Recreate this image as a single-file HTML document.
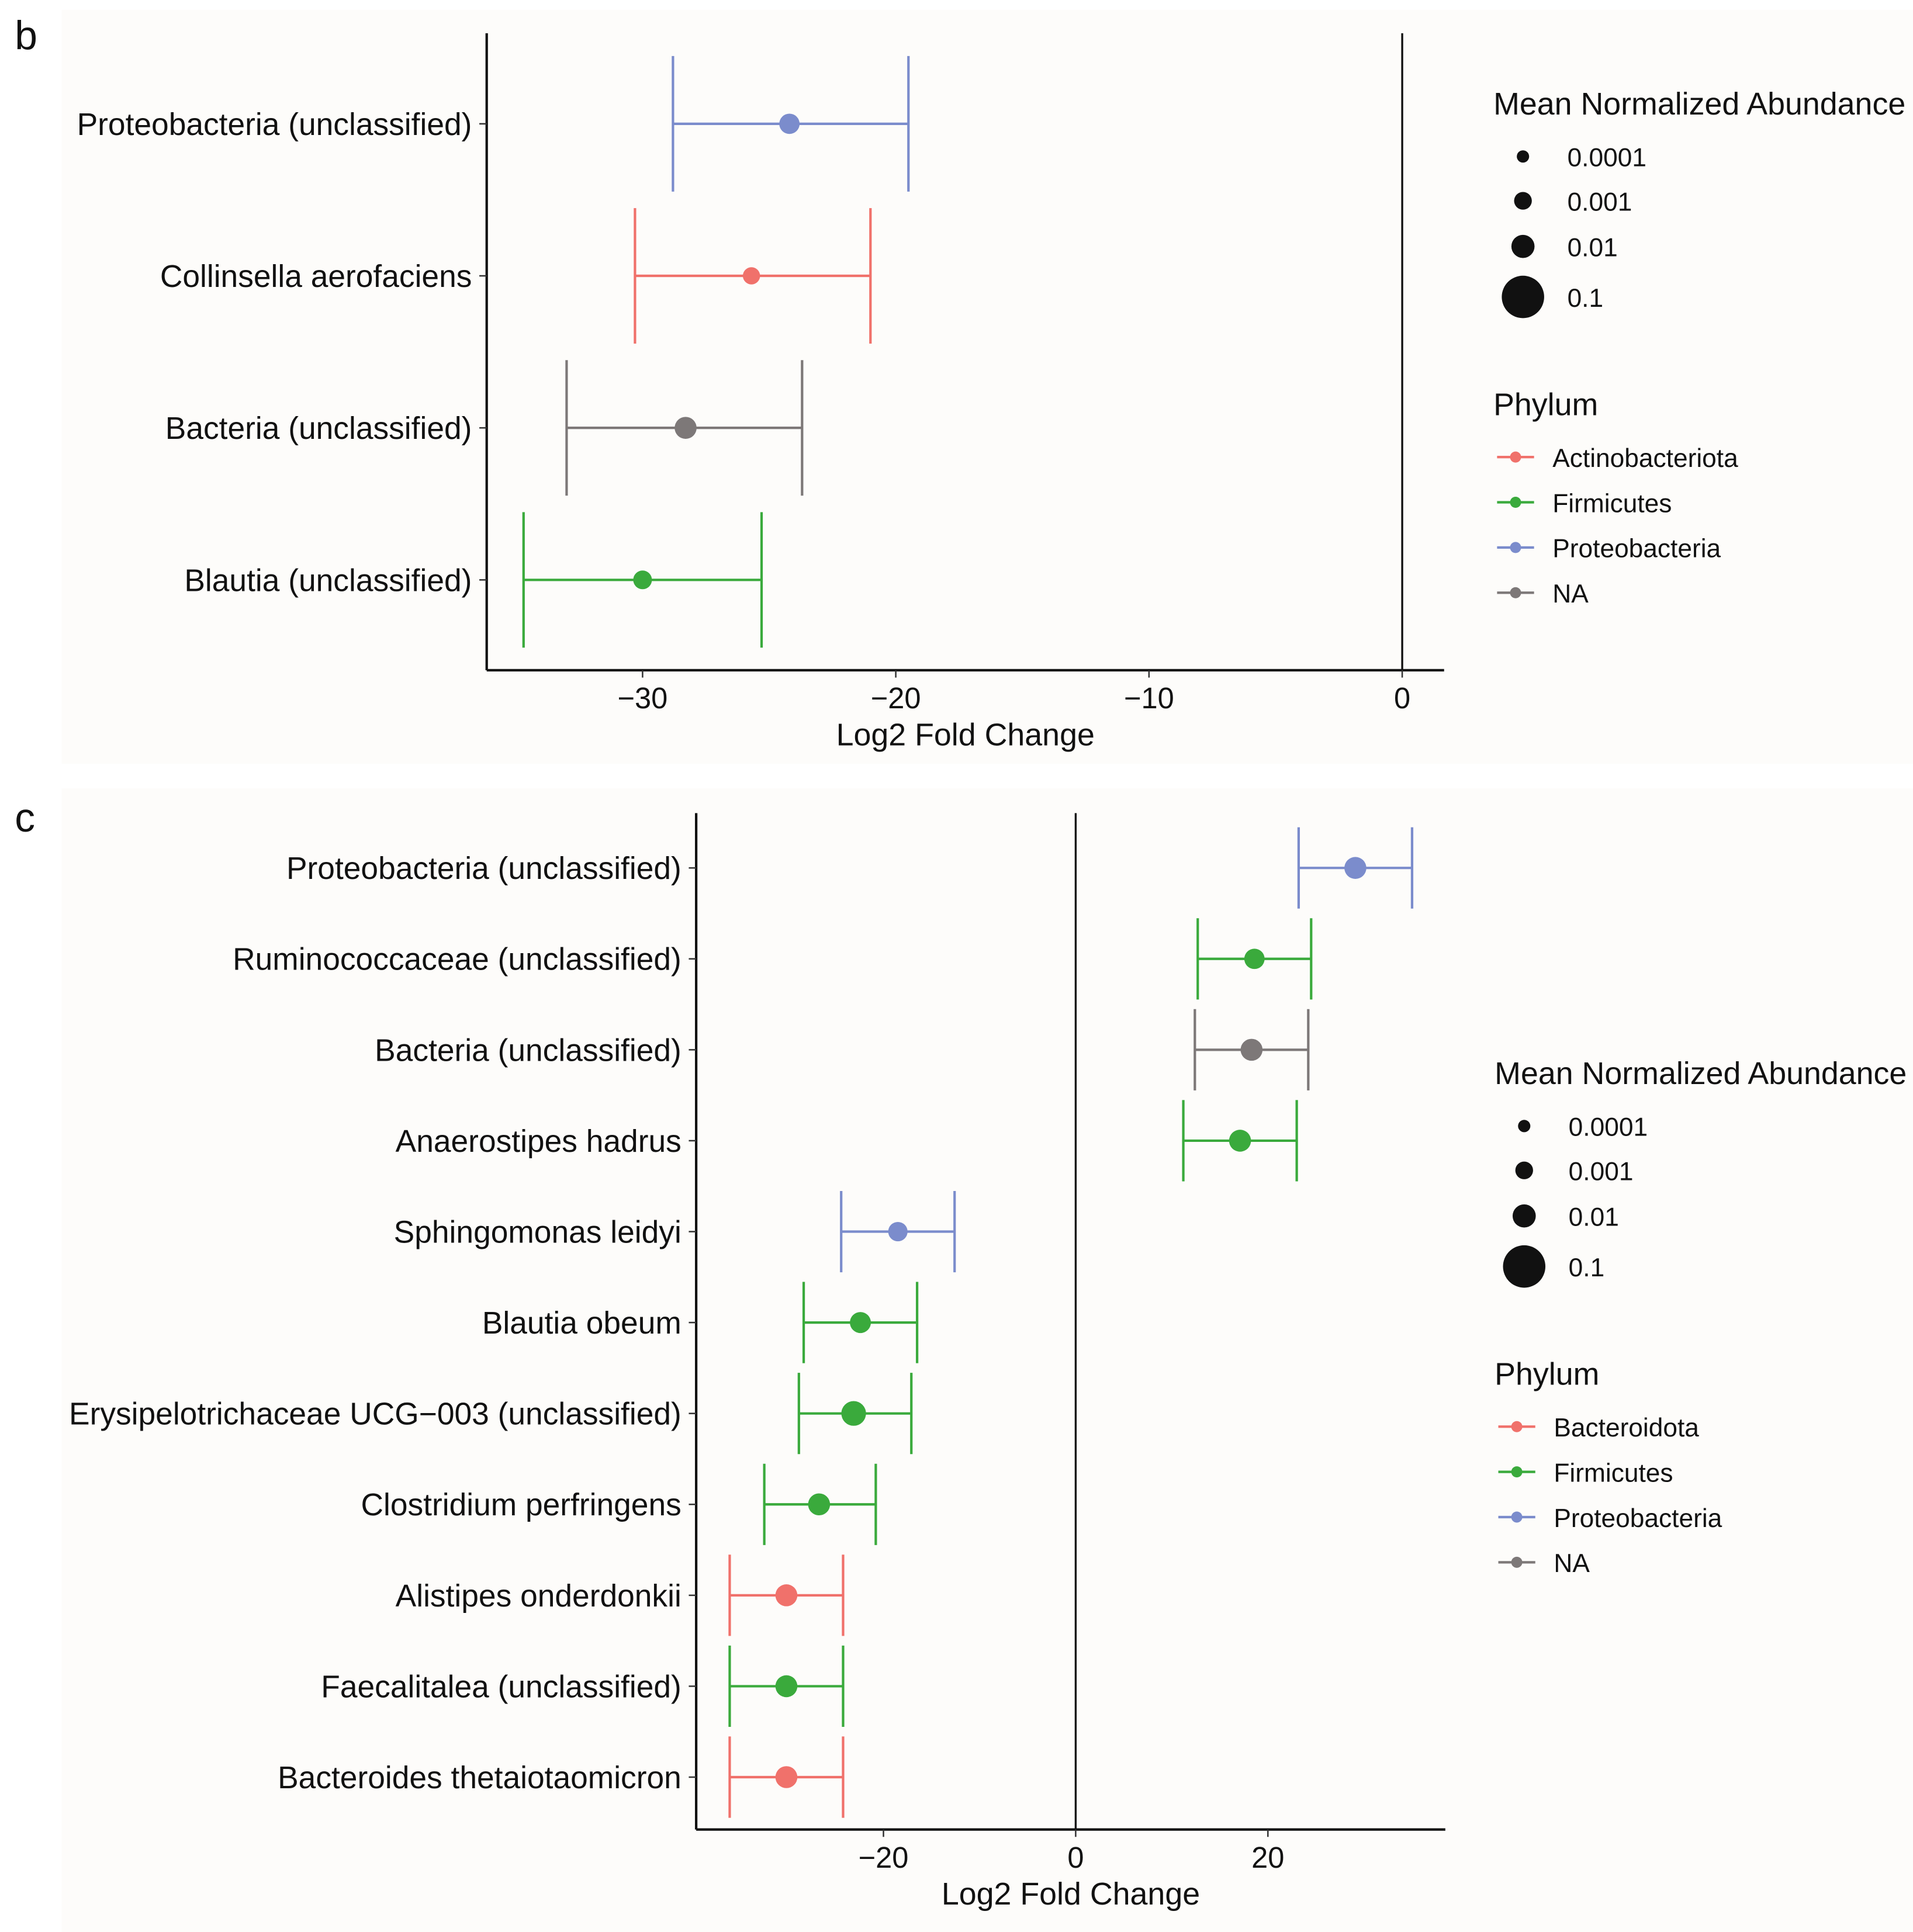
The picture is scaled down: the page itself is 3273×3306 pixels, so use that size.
<!DOCTYPE html>
<html><head><meta charset="utf-8"><style>
html,body{margin:0;padding:0;background:#fff}
svg{display:block}
text{font-family:"Liberation Sans",sans-serif;fill:#111}
</style></head><body>
<svg id="chart" width="3273" height="3306" viewBox="0 0 1552.5 1568.2" preserveAspectRatio="xMinYMin meet" xmlns="http://www.w3.org/2000/svg">
<rect x="0" y="0" width="1560" height="1576" fill="#ffffff"/>
<rect x="50" y="8" width="1510" height="612" fill="#fdfcfa"/>
<rect x="50" y="640" width="1510" height="930" fill="#fdfcfa"/>
<text x="12" y="40" font-size="33">b</text>
<text x="12" y="675" font-size="33">c</text>
<g id="gb"></g><g id="gc"></g>
</svg>
<script>
// Panel b data
const bCats = ["Proteobacteria (unclassified)","Collinsella aerofaciens","Bacteria (unclassified)","Blautia (unclassified)"];
const bMean = [-24.2,-25.7,-28.3,-30.0];
const bLow = [-28.8,-30.3,-33.0,-34.7];
const bHigh = [-19.5,-21.0,-23.7,-25.3];
const bPhylum = ["Proteobacteria","Actinobacteriota","NA","Firmicutes"];
const bAbund = [0.003,0.0008,0.006,0.0015];
const bTicks = [-30,-20,-10,0];
const bLegend = ["Actinobacteriota","Firmicutes","Proteobacteria","NA"];
// Panel c data
const cCats = ["Proteobacteria (unclassified)","Ruminococcaceae (unclassified)","Bacteria (unclassified)","Anaerostipes hadrus","Sphingomonas leidyi","Blautia obeum","Erysipelotrichaceae UCG\u2212003 (unclassified)","Clostridium perfringens","Alistipes onderdonkii","Faecalitalea (unclassified)","Bacteroides thetaiotaomicron"];
const cMean = [29.1,18.6,18.3,17.1,-18.5,-22.4,-23.1,-26.7,-30.1,-30.1,-30.1];
const cLow = [23.2,12.7,12.4,11.2,-24.4,-28.3,-28.8,-32.4,-36.0,-36.0,-36.0];
const cHigh = [35.0,24.5,24.2,23.0,-12.6,-16.5,-17.1,-20.8,-24.2,-24.2,-24.2];
const cPhylum = ["Proteobacteria","Firmicutes","NA","Firmicutes","Proteobacteria","Firmicutes","Firmicutes","Firmicutes","Bacteroidota","Firmicutes","Bacteroidota"];
const cAbund = [0.006,0.003,0.006,0.006,0.002,0.004,0.012,0.006,0.006,0.006,0.006];
const cTicks = [-20,0,20];
const cLegend = ["Bacteroidota","Firmicutes","Proteobacteria","NA"];
const sizeBreaks = [0.0001,0.001,0.01,0.1];
const sizeLabels = ["0.0001","0.001","0.01","0.1"];

const colors = {Actinobacteriota:"#f0716b",Bacteroidota:"#f0716b",Firmicutes:"#3aaa3c",Proteobacteria:"#7b8ccc",NA:"#7d7878"};
const NS="http://www.w3.org/2000/svg";
function mk(parent,tag,attrs,txt){const e=document.createElementNS(NS,tag);for(const k in attrs)e.setAttribute(k,attrs[k]);if(txt!=null)e.textContent=txt;parent.appendChild(e);return e;}
function rad(a){const l=Math.log10(a)+4;return 5+2.2*l+ (l>2?5.6*(l-2):0);}

function panel(g,o,cats,mean,low,high,phy,ab,ticks,leg){
  const X=v=>o.x0+(v-o.v0)*o.k;
  const Y=i=>o.y0+i*o.dy;
  let a=mk(g,'line',{x1:o.ax,y1:o.top,x2:o.ax,y2:o.bot,stroke:'#111','stroke-width':2});
  
  a=mk(g,'line',{x1:o.ax,y1:o.bot,x2:o.right,y2:o.bot,stroke:'#111','stroke-width':2});
  
  a=mk(g,'line',{x1:X(0),y1:o.top,x2:X(0),y2:o.bot,stroke:'#111','stroke-width':1.6});
  
  ticks.forEach(t=>{
    let l=mk(g,'line',{x1:X(t),y1:o.bot,x2:X(t),y2:o.bot+6,stroke:'#333','stroke-width':1.2});
    
    let tx=mk(g,'text',{x:X(t),y:o.bot+31,'font-size':24,'text-anchor':'middle',fill:'#222'},t<0?'\u2212'+(-t):String(t));
    
  });
  let at=mk(g,'text',{x:(o.ax+o.right)/2,y:o.bot+61,'font-size':25.5,'text-anchor':'middle'},'Log2 Fold Change');
  
  cats.forEach((c,i)=>{
    const y=Y(i),col=colors[phy[i]];
    let t=mk(g,'text',{x:o.ax-12,y:y+9,'font-size':25.3,'text-anchor':'end'},c);
    
    let tk=mk(g,'line',{x1:o.ax-6,y1:y,x2:o.ax,y2:y,stroke:'#333','stroke-width':1.2});
    
    const grp=mk(g,'g',{});
    
    mk(grp,'line',{x1:X(low[i]),y1:y,x2:X(high[i]),y2:y,stroke:col,'stroke-width':2});
    mk(grp,'line',{x1:X(low[i]),y1:y-o.cap,x2:X(low[i]),y2:y+o.cap,stroke:col,'stroke-width':2});
    mk(grp,'line',{x1:X(high[i]),y1:y-o.cap,x2:X(high[i]),y2:y+o.cap,stroke:col,'stroke-width':2});
    let p=mk(g,'circle',{cx:X(mean[i]),cy:y,r:rad(ab[i]),fill:col});
    
  });
  let lt=mk(g,'text',{x:o.lx,y:o.ly+9,'font-size':25.5},'Mean Normalized Abundance');
  
  const sy=[43,79,116,157];
  sizeBreaks.forEach((b,i)=>{
    let c=mk(g,'circle',{cx:o.lx+24,cy:o.ly+sy[i],r:rad(b),fill:'#111'});
    
    let t=mk(g,'text',{x:o.lx+60,y:o.ly+sy[i]+8,'font-size':21},sizeLabels[i]);
    
  });
  let pt=mk(g,'text',{x:o.lx,y:o.ly+253,'font-size':25.5},'Phylum');
  
  leg.forEach((n,i)=>{
    const y=o.ly+287+i*36.7,col=colors[n];
    const e=mk(g,'g',{});
    
    mk(e,'line',{x1:o.lx+3,y1:y,x2:o.lx+33,y2:y,stroke:col,'stroke-width':2});
    mk(e,'circle',{cx:o.lx+18,cy:y,r:4.5,fill:col});
    mk(e,'text',{x:o.lx+48,y:y+8,'font-size':21},n);
  });
}
panel(document.getElementById('gb'),{x0:1138,v0:0,k:20.55,y0:100.5,dy:123.4,ax:395,top:27,bot:544,right:1172,cap:55,lx:1212,ly:84},
  bCats,bMean,bLow,bHigh,bPhylum,bAbund,bTicks,bLegend);
panel(document.getElementById('gc'),{x0:873,v0:0,k:7.8,y0:704.5,dy:73.8,ax:565,top:660,bot:1485,right:1173,cap:33,lx:1213,ly:871},
  cCats,cMean,cLow,cHigh,cPhylum,cAbund,cTicks,cLegend);
</script>
</body></html>
